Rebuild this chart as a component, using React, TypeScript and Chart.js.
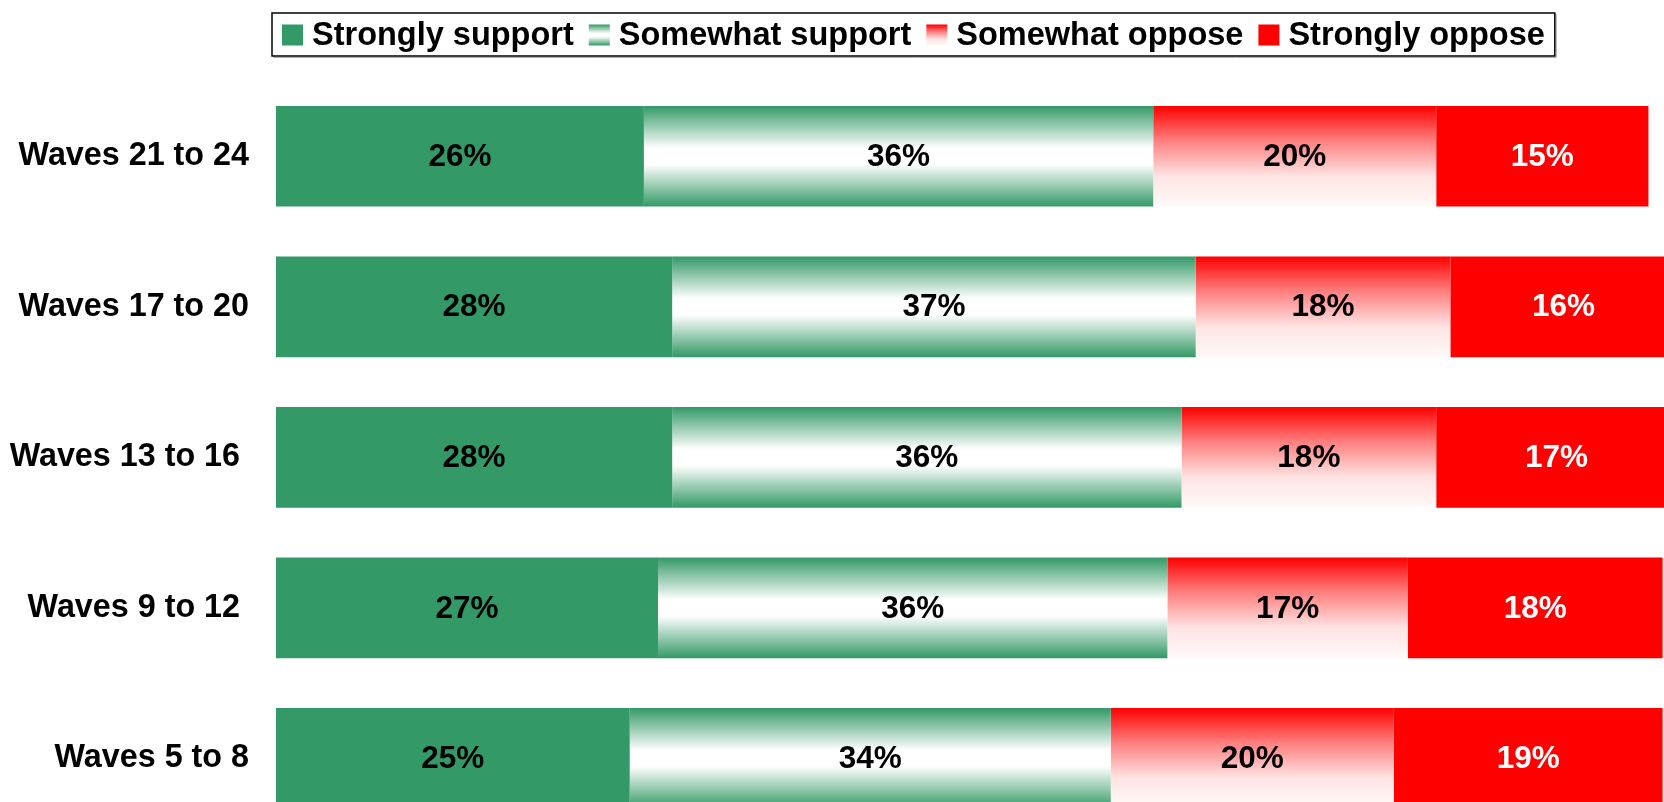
import React, { useEffect, useRef } from "react";
import { Chart, registerables } from "chart.js";

Chart.register(...registerables);

const categories = ["Waves 21 to 24", "Waves 17 to 20", "Waves 13 to 16 ", "Waves 9 to 12 ", "Waves 5 to 8"];
const seriesNames = ["Strongly support", "Somewhat support", "Somewhat oppose", "Strongly oppose"];
const stronglySupport = [26, 28, 28, 27, 25];
const somewhatSupport = [36, 37, 36, 36, 34];
const somewhatOppose = [20, 18, 18, 17, 20];
const stronglyOppose = [15, 16, 17, 18, 19];

const GREEN = "#339966";
const RED = "#ff0000";
const FONT = '"Liberation Sans", Arial, Helvetica, sans-serif';
const BAR_FRACTION = 0.669;

type Stops = [number, string][];
const greenStops: Stops = [
  [0, GREEN],
  [0.42, "#ffffff"],
  [0.58, "#ffffff"],
  [1, GREEN],
];
const redStops: Stops = [
  [0, RED],
  [0.35, "#ff8080"],
  [0.7, "#ffe4e4"],
  [1, "#fffaf8"],
];

function gradientFill(stops: Stops) {
  return (ctx: any) => {
    const chart = ctx.chart;
    const ys = chart.scales && chart.scales.y;
    if (!chart.chartArea || !ys || ctx.dataIndex === undefined) return stops[0][1];
    const c = ys.getPixelForValue(ctx.dataIndex);
    const step = Math.abs(ys.getPixelForValue(1) - ys.getPixelForValue(0));
    const half = (step * BAR_FRACTION) / 2;
    const g = chart.ctx.createLinearGradient(0, c - half, 0, c + half);
    stops.forEach(([o, col]) => g.addColorStop(o, col));
    return g;
  };
}

const toPoints = (arr: number[]) => arr.map((v, i) => ({ x: v, y: i }));

const legendPlugin = {
  id: "boxLegend",
  afterDraw(chart: any) {
    const ctx = chart.ctx;
    ctx.save();
    ctx.font = `bold 32.5px ${FONT}`;
    ctx.textBaseline = "middle";
    ctx.textAlign = "left";
    const boxLeft = 272;
    const boxTop = 13;
    const boxBottom = 56;
    const cy = 35;
    const sq = 21;
    let x = boxLeft + 10;
    const fills = [
      [[0, GREEN], [1, GREEN]] as Stops,
      greenStops,
      redStops,
      [[0, RED], [1, RED]] as Stops,
    ];
    seriesNames.forEach((name, i) => {
      const g = ctx.createLinearGradient(0, cy - sq / 2, 0, cy + sq / 2);
      fills[i].forEach(([o, col]) => g.addColorStop(o, col));
      ctx.fillStyle = g;
      ctx.fillRect(x, cy - sq / 2, sq, sq);
      ctx.fillStyle = "#000";
      ctx.fillText(name, x + sq + 9, cy + 1);
      x += sq + 9 + ctx.measureText(name).width + 15;
    });
    const boxRight = x - 15 + 10;
    ctx.strokeStyle = "#b0b0b0";
    ctx.lineWidth = 1;
    ctx.beginPath();
    ctx.moveTo(boxLeft + 1, boxBottom + 1.5);
    ctx.lineTo(boxRight + 1.5, boxBottom + 1.5);
    ctx.lineTo(boxRight + 1.5, boxTop + 1);
    ctx.stroke();
    ctx.strokeStyle = "#000";
    ctx.lineWidth = 1.5;
    ctx.strokeRect(boxLeft, boxTop, boxRight - boxLeft, boxBottom - boxTop);
    ctx.restore();
  },
};

const labelPlugin = {
  id: "segLabels",
  afterDatasetsDraw(chart: any) {
    const ctx = chart.ctx;
    ctx.save();
    ctx.font = `bold 31.5px ${FONT}`;
    ctx.textAlign = "center";
    ctx.textBaseline = "middle";
    chart.data.datasets.forEach((ds: any, di: number) => {
      const meta = chart.getDatasetMeta(di);
      meta.data.forEach((el: any, i: number) => {
        const v = ds.data[i].x;
        ctx.fillStyle = di === 3 ? "#ffffff" : "#000000";
        ctx.fillText(`${v}%`, (el.x + el.base) / 2, el.y + 1);
      });
    });
    ctx.restore();
  },
};

export default function App() {
  const ref = useRef<HTMLCanvasElement>(null);
  useEffect(() => {
    if (!ref.current) return;
    const chart = new Chart(ref.current, {
      type: "bar",
      data: {
        datasets: [
          { label: seriesNames[0], data: toPoints(stronglySupport), backgroundColor: GREEN },
          { label: seriesNames[1], data: toPoints(somewhatSupport), backgroundColor: gradientFill(greenStops) },
          { label: seriesNames[2], data: toPoints(somewhatOppose), backgroundColor: gradientFill(redStops) },
          { label: seriesNames[3], data: toPoints(stronglyOppose), backgroundColor: RED },
        ] as any,
      },
      options: {
        indexAxis: "y",
        responsive: false,
        animation: false,
        layout: { padding: { top: 81, right: 0, bottom: 0, left: 0 } },
        datasets: { bar: { barPercentage: 1, categoryPercentage: BAR_FRACTION, borderWidth: 0 } },
        plugins: { legend: { display: false }, tooltip: { enabled: false } },
        scales: {
          x: { type: "linear", stacked: true, min: 0, max: 98.1, display: false, offset: false },
          y: {
            type: "linear",
            stacked: true,
            reverse: true,
            offset: false,
            min: -0.5,
            max: 4.29,
            grid: { display: false, drawTicks: false, offset: false },
            border: { display: false },
            afterBuildTicks: (scale: any) => {
              scale.ticks = categories.map((_, i) => ({ value: i }));
            },
            afterFit: (scale: any) => {
              scale.width = 276;
              scale.paddingTop = 0;
              scale.paddingBottom = 0;
            },
            ticks: {
              padding: 27,
              color: "#000",
              font: { family: FONT, size: 32.3, weight: "bold" },
              callback: (v: any) => categories[Math.round(Number(v))] ?? "",
            },
          },
        },
      } as any,
      plugins: [labelPlugin, legendPlugin],
    });
    return () => chart.destroy();
  }, []);
  return (
    <canvas
      ref={ref}
      width={1664}
      height={802}
      style={{ position: "fixed", left: 0, top: 0, width: 1664, height: 802, display: "block", background: "#fff" }}
    />
  );
}
